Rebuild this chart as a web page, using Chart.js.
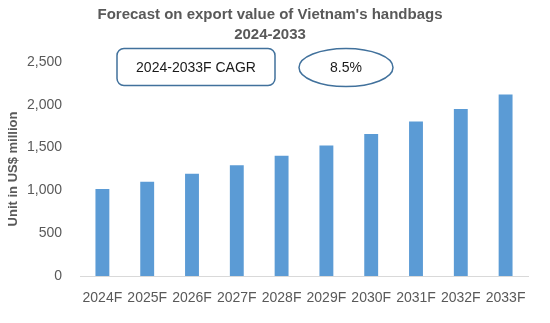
<!DOCTYPE html>
<html><head><meta charset="utf-8">
<script src="https://cdn.jsdelivr.net/npm/chart.js@4"></script>
<style>html,body{margin:0;padding:0;background:#fff;}#wrap{width:550px;height:323px;position:relative;}</style>
</head><body><div id="wrap"><canvas id="c" width="550" height="323"></canvas></div>
<script>
const categories = ["2024F","2025F","2026F","2027F","2028F","2029F","2030F","2031F","2032F","2033F"];
const exportValues = [1015,1100,1195,1295,1405,1525,1660,1805,1950,2120];
const yTicks = [0,500,1000,1500,2000,2500];
const titleLines = ["Forecast on export value of Vietnam's handbags","2024-2033"];
const cagrLabel = "2024-2033F CAGR";
const cagrValue = "8.5%";

const FONT = "'Liberation Sans', Arial, sans-serif";

const overlay = {
  id: 'overlay',
  afterDraw(chart) {
    const ctx = chart.ctx;
    ctx.save();
    ctx.fillStyle = '#595959';
    ctx.font = "bold 15px " + FONT;
    ctx.textAlign = 'center';
    ctx.textBaseline = 'middle';
    ctx.fillText(titleLines[0], 270, 15);
    ctx.fillText(titleLines[1], 270, 35);
    // rounded box
    const x = 117, y = 48.5, w = 158, h = 37, r = 7;
    ctx.beginPath();
    ctx.moveTo(x + r, y);
    ctx.arcTo(x + w, y, x + w, y + h, r);
    ctx.arcTo(x + w, y + h, x, y + h, r);
    ctx.arcTo(x, y + h, x, y, r);
    ctx.arcTo(x, y, x + w, y, r);
    ctx.closePath();
    ctx.strokeStyle = '#41719C';
    ctx.lineWidth = 1.5;
    ctx.stroke();
    ctx.fillStyle = '#1a1a1a';
    ctx.font = "14px " + FONT;
    ctx.fillText(cagrLabel, x + w / 2, y + h / 2 + 1);
    // ellipse
    ctx.beginPath();
    ctx.ellipse(346, 67.5, 47, 19, 0, 0, Math.PI * 2);
    ctx.stroke();
    ctx.fillText(cagrValue, 346, 68);
    ctx.restore();
  }
};

new Chart(document.getElementById('c'), {
  type: 'bar',
  data: {
    labels: categories,
    datasets: [{
      data: exportValues,
      backgroundColor: '#5B9BD5',
      categoryPercentage: 1,
      barPercentage: 0.31
    }]
  },
  options: {
    responsive: false,
    animation: false,
    layout: { padding: { top: 62, right: 22, left: 6, bottom: 0 } },
    plugins: { legend: { display: false }, tooltip: { enabled: false } },
    scales: {
      x: {
        grid: { display: false, drawTicks: false },
        border: { color: '#D9D9D9', width: 1 },
        ticks: { color: '#595959', font: { family: FONT, size: 14 }, padding: 14, maxRotation: 0, autoSkip: false },
        afterFit: s => { s.height = 47; }
      },
      y: {
        min: 0, max: 2500,
        grid: { display: false, drawTicks: false },
        border: { display: false },
        afterBuildTicks: s => { s.ticks = yTicks.map(v => ({ value: v })); },
        ticks: {
          color: '#595959', font: { family: FONT, size: 14 }, padding: 18,
          callback: v => v.toLocaleString('en-US')
        },
        title: { display: true, text: 'Unit in US$ million', color: '#595959', font: { family: FONT, size: 13, weight: 'bold' }, padding: { top: 0, bottom: 4 } },
        afterFit: s => { s.width = 74; }
      }
    }
  },
  plugins: [overlay]
});
</script></body></html>
